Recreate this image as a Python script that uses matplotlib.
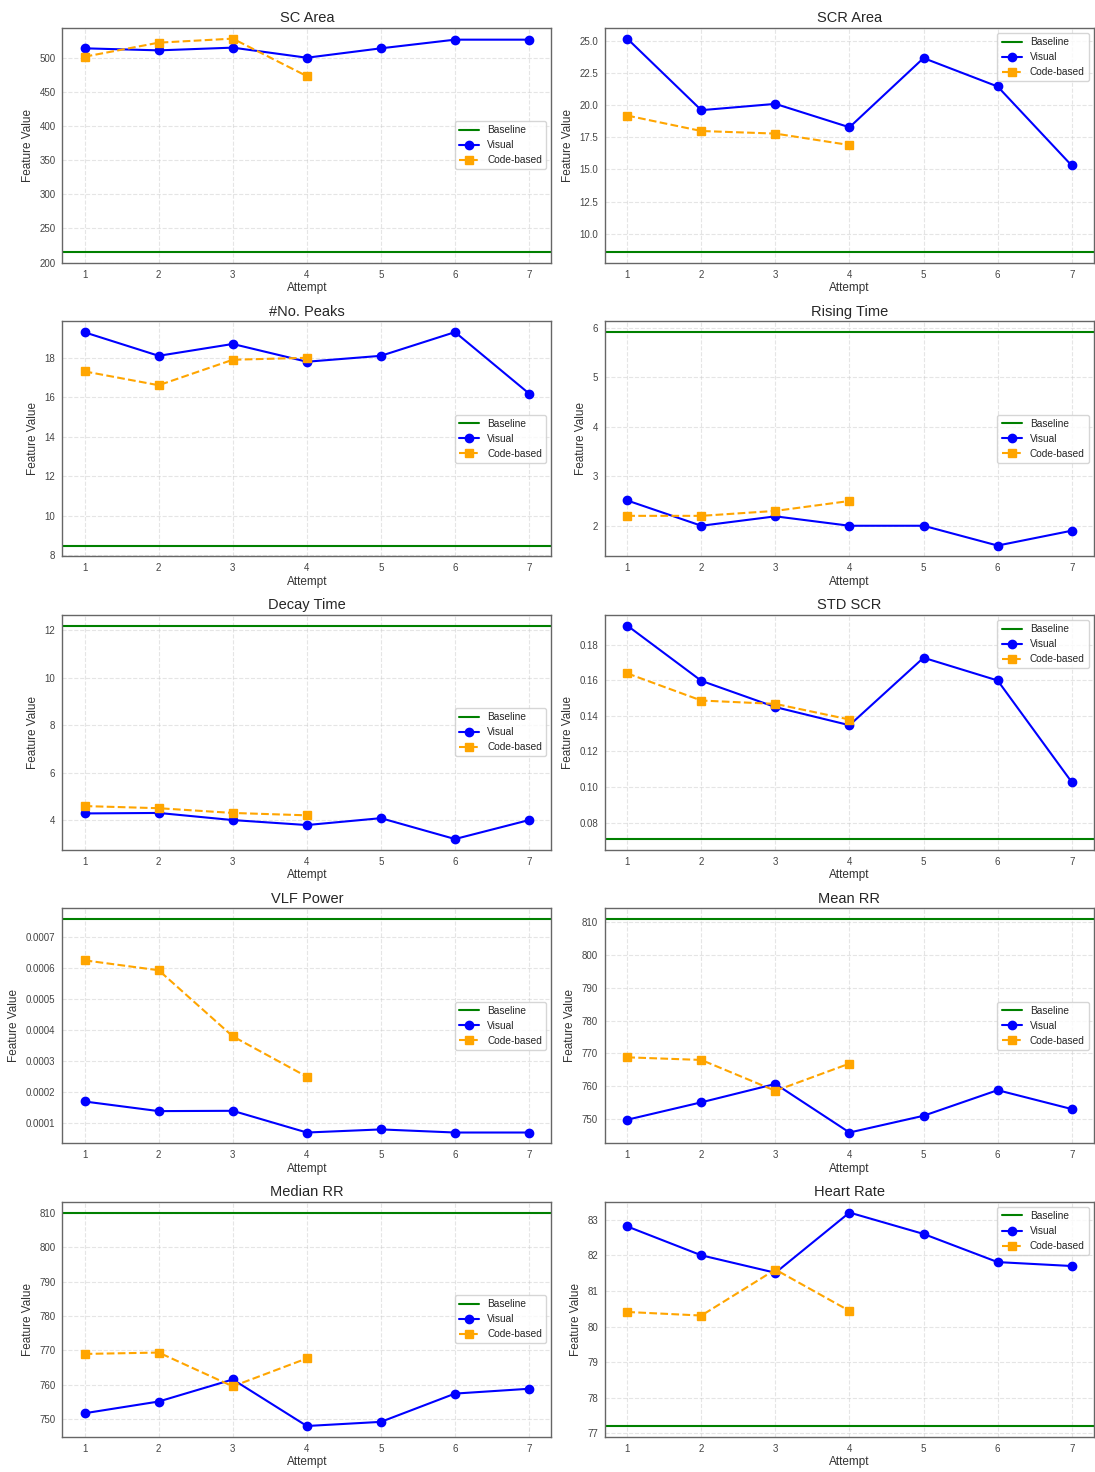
import matplotlib
matplotlib.use("Agg")
import matplotlib.pyplot as plt
import seaborn as sns

sns.set_style("white")
plt.rcParams['font.family'] = ['Liberation Sans', 'DejaVu Sans']

attempts_visual = [1, 2, 3, 4, 5, 6, 7]
attempts_code = [1, 2, 3, 4]

titles = ["SC Area", "SCR Area", "#No. Peaks", "Rising Time", "Decay Time",
          "STD SCR", "VLF Power", "Mean RR", "Median RR", "Heart Rate"]

baseline = [215.3, 8.57, 8.49, 5.91, 12.2, 0.0707, 0.000758, 810.9, 810.0, 77.21]

sc_area_visual = [514.3, 511.3, 515.3, 500.5, 514.3, 527.0, 527.0]
sc_area_code = [502.0, 522.6, 528.5, 473.5]
scr_area_visual = [25.16, 19.6, 20.09, 18.27, 23.65, 21.44, 15.3]
scr_area_code = [19.18, 17.98, 17.78, 16.89]
peaks_visual = [19.29, 18.1, 18.7, 17.8, 18.1, 19.3, 16.19]
peaks_code = [17.31, 16.61, 17.9, 18.0]
rising_visual = [2.51, 2.0, 2.19, 2.0, 2.0, 1.6, 1.9]
rising_code = [2.2, 2.2, 2.3, 2.5]
decay_visual = [4.28, 4.3, 4.0, 3.79, 4.08, 3.2, 4.0]
decay_code = [4.59, 4.5, 4.3, 4.2]
std_scr_visual = [0.1909, 0.1598, 0.145, 0.1348, 0.1728, 0.16, 0.1028]
std_scr_code = [0.164, 0.1487, 0.1468, 0.138]
vlf_visual = [0.00017, 0.000139, 0.00014, 0.00007, 0.00008, 0.00007, 0.00007]
vlf_code = [0.000625, 0.000593, 0.00038, 0.00025]
mean_rr_visual = [749.8, 755.1, 760.7, 745.9, 751.0, 758.8, 753.05]
mean_rr_code = [768.8, 768.0, 758.6, 766.9]
median_rr_visual = [751.8, 755.2, 761.6, 748.1, 749.3, 757.5, 758.9]
median_rr_code = [769.0, 769.4, 759.6, 767.7]
hr_visual = [82.81, 82.0, 81.51, 83.2, 82.6, 81.81, 81.7]
hr_code = [80.41, 80.31, 81.6, 80.44]

visual = [sc_area_visual, scr_area_visual, peaks_visual, rising_visual, decay_visual,
          std_scr_visual, vlf_visual, mean_rr_visual, median_rr_visual, hr_visual]
code = [sc_area_code, scr_area_code, peaks_code, rising_code, decay_code,
        std_scr_code, vlf_code, mean_rr_code, median_rr_code, hr_code]

legend_loc = ['center right', 'upper right', 'center right', 'center right', 'center right',
              'upper right', 'center right', 'center right', 'center right', 'upper right']

fig, axes = plt.subplots(5, 2, figsize=(10.95, 14.72), dpi=100)
fig.subplots_adjust(left=0.057, right=0.999, top=0.981, bottom=0.024, wspace=0.11, hspace=0.25)

for i, ax in enumerate(axes.flat):
    ax.axhline(baseline[i], color='green', lw=1.5, label='Baseline')
    ax.plot(attempts_visual, visual[i], color='blue', marker='o', ms=6, lw=1.5, label='Visual')
    ax.plot(attempts_code, code[i], color='orange', marker='s', ms=6, lw=1.5, ls='--', label='Code-based')
    ax.set_title(titles[i], fontsize=10.5, color='#262626', pad=4)
    ax.set_xlabel('Attempt', fontsize=8.5, color='#333333', labelpad=2)
    ax.set_ylabel('Feature Value', fontsize=8.5, color='#333333', labelpad=4)
    ax.set_xticks(attempts_visual)
    ax.tick_params(labelsize=7, colors='#444444', length=0, pad=5)
    ax.grid(True, linestyle='--', alpha=0.5)
    for s in ax.spines.values():
        s.set_edgecolor('#666666')
        s.set_linewidth(1.0)
    ax.legend(loc=legend_loc[i], fontsize=7.3, frameon=True)

fig.savefig('out.png', dpi=100)
